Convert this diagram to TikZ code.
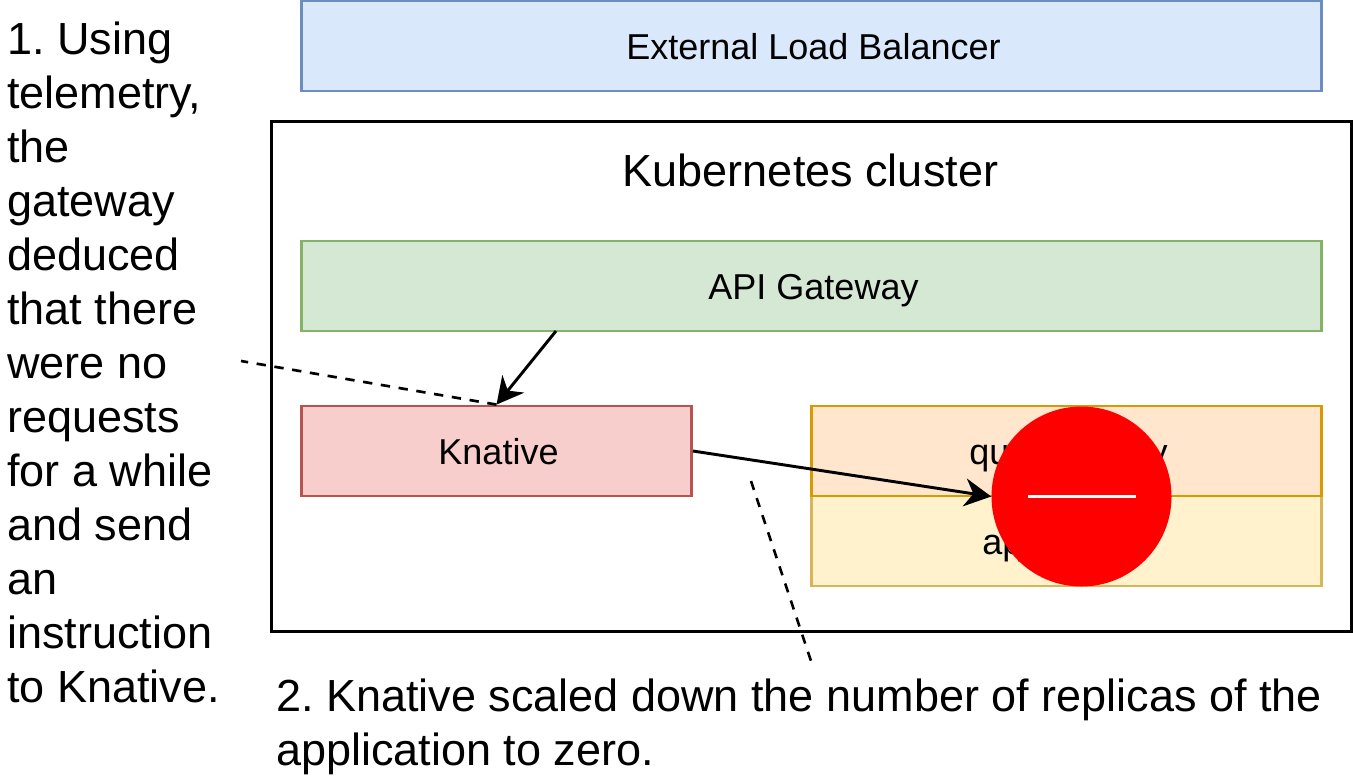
\documentclass[tikz,border=0pt]{standalone}
\usepackage{fontspec}
\setmainfont{Liberation Sans}
\usepackage{tikz}
\usetikzlibrary{arrows.meta}
\definecolor{lbfill}{HTML}{DAE8FC}
\definecolor{lbdraw}{HTML}{6C8EBF}
\definecolor{gwfill}{HTML}{D5E8D4}
\definecolor{gwdraw}{HTML}{82B366}
\definecolor{knfill}{HTML}{F8CECC}
\definecolor{kndraw}{HTML}{B85450}
\definecolor{qpfill}{HTML}{FFE6CC}
\definecolor{qpdraw}{HTML}{D79B00}
\definecolor{appfill}{HTML}{FFF2CC}
\definecolor{appdraw}{HTML}{D6B656}
\frenchspacing
\tikzset{
  px/.style={x=0.75pt,y=-0.75pt},
  box/.style={draw,line width=2.1pt,inner sep=0pt,text height=22.4pt,text depth=2pt,execute at begin node=\hspace*{3pt},font=\fontsize{27}{32}\selectfont},
  note/.style={inner sep=0pt,align=left,anchor=north west,font=\fontsize{33.75}{40.5}\selectfont},
  arrow/.style={-{Stealth[length=20pt,width=21pt,inset=6.5pt]},line width=2.2pt},
  hint/.style={line width=2pt,dash pattern=on 7pt off 6.5pt},
}
\begin{document}
\begin{tikzpicture}[px]
  \useasboundingbox (0,0) rectangle (1353,783);
  \node[box,fill=lbfill,draw=lbdraw,minimum width=765.5pt,minimum height=67.5pt] (balancer) at (811.5,46) {External Load Balancer};
  \node[box,draw=black,line width=2.2pt,minimum width=810pt,minimum height=382pt] (cluster) at (811.5,376.5) {};
  \node[inner sep=0pt,font=\fontsize{33.75}{40}\selectfont] (clusterlabel) at (810.5,170) {Kubernetes cluster};
  \node[box,fill=gwfill,draw=gwdraw,minimum width=765.5pt,minimum height=67.5pt] (gateway) at (811.5,286) {API Gateway};
  \node[box,fill=knfill,draw=kndraw,minimum width=292.5pt,minimum height=67.5pt] (knative) at (496.5,451) {Knative};
  \node[box,fill=appfill,draw=appdraw,minimum width=382.5pt,minimum height=67.5pt,execute at begin node={}] (app) at (1066.5,541) {ap\kern-5pt plication\hspace*{5pt}};
  \node[box,fill=qpfill,draw=qpdraw,minimum width=382.5pt,minimum height=67.5pt] (proxy) at (1066.5,451) {queue proxy};
  \node[circle,fill=red,minimum size=135pt,inner sep=0pt] (stop) at (1081.5,496.5) {};
  \draw[white,line width=2.2pt] (1027.5,496.5) -- (1135.5,496.5);
  \coordinate (gwout) at (556,331);
  \coordinate (noteone) at (241,361);
  \draw[hint] (knative.north) -- (noteone);
  \draw[arrow] (gwout) -- (knative.north);
  \draw[arrow] (knative.east) -- (stop.west);
  \coordinate (notetwostart) at (751,481);
  \coordinate (notetwoend) at (811,661);
  \draw[hint] (notetwostart) -- (notetwoend);
  \node[note] (first) at (7,22) {1. Using\\telemetry,\\the\\gateway\\deduced\\that there\\were no\\requests\\for a while\\and send\\an\\instruction\\to Knative.};
  \node[note] (second) at (276,679) {2. Knative scaled down the number of replicas of the\\application to zero.};
\end{tikzpicture}
\end{document}
